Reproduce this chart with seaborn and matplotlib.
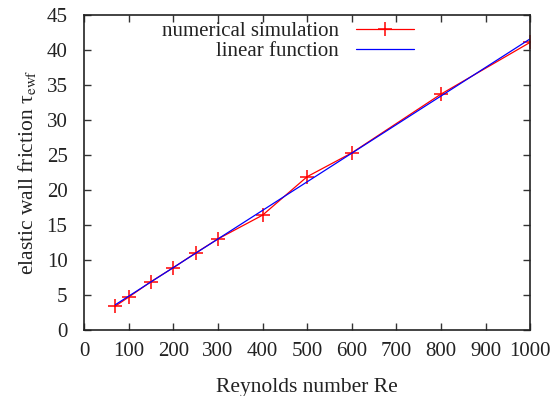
import matplotlib
matplotlib.use("Agg")
import matplotlib.pyplot as plt
import seaborn as sns
import pandas as pd

reynolds = [70, 100, 150, 200, 250, 300, 400, 500, 600, 800, 1000]
friction = [3.4, 4.7, 6.9, 8.9, 11.0, 13.0, 16.4, 21.9, 25.3, 33.7, 41.1]
linear_x = [70, 1000]
linear_y = [3.6, 41.6]
x_ticks = list(range(0, 1001, 100))
y_ticks = list(range(0, 46, 5))

sns.set_style("ticks")
plt.rcParams["font.family"] = ["Liberation Serif", "DejaVu Serif"]
plt.rcParams["mathtext.fontset"] = "stix"
plt.rcParams["font.size"] = 15

fig = plt.figure(figsize=(5.54, 3.96), dpi=100)
ax = fig.add_axes([0.152, 0.167, 0.805, 0.795])

sim = pd.DataFrame({"Re": reynolds, "tau": friction})
lin = pd.DataFrame({"Re": linear_x, "tau": linear_y})

sns.lineplot(data=sim, x="Re", y="tau", ax=ax, color="#ff0000", lw=0.9,
             marker="+", markersize=10, markeredgewidth=1.1,
             markeredgecolor="#ff0000", label="numerical simulation")
sns.lineplot(data=lin, x="Re", y="tau", ax=ax, color="#0000ff", lw=0.9,
             label="linear function")

ax.set_xlim(0, 1000)
ax.set_ylim(0, 45)
ax.set_xticks(x_ticks)
ax.set_yticks(y_ticks)
ax.tick_params(direction="in", length=5, width=1, top=True, right=True,
               labelsize=15, color="#333333", labelcolor="#222222")
ax.tick_params(axis="y", pad=12)
ax.tick_params(axis="x", pad=9)
for s in ax.spines.values():
    s.set_visible(True)
    s.set_linewidth(1.2)
    s.set_color("#222222")
ax.set_xlabel("Reynolds number Re", fontsize=15.5, labelpad=12, color="#222222")
ax.set_ylabel("elastic wall friction τ$_{\\rm ewf}$", fontsize=15.5, labelpad=6,
              color="#222222")

leg = ax.legend(loc="upper right", bbox_to_anchor=(0.765, 1.015), frameon=False,
                markerfirst=False, fontsize=15, handlelength=2.8,
                handletextpad=0.8, labelspacing=0.0, borderaxespad=0.15)
for t in leg.get_texts():
    t.set_ha("right")
    t.set_color("#222222")
leg._legend_box.align = "right"

fig.savefig("out.png", dpi=100)
